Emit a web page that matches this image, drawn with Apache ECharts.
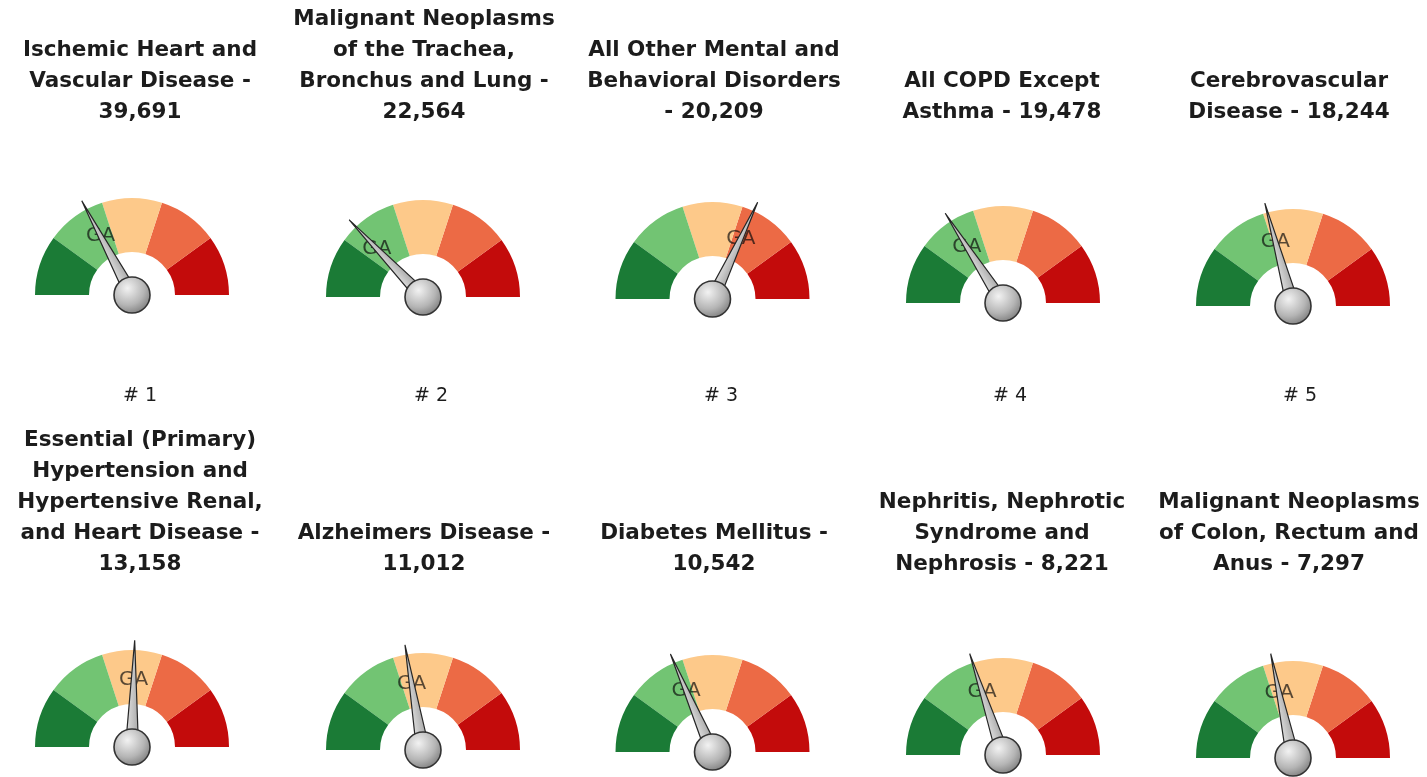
<!DOCTYPE html>
<html>
<head>
<meta charset="utf-8">
<script src="https://cdn.jsdelivr.net/npm/echarts@6/dist/echarts.min.js"></script>
<style>
html,body{margin:0;padding:0;background:#ffffff;}
#chart{width:1427px;height:777px;}
</style>
</head>
<body>
<div id="chart"></div>
<script>
// ---------- data ----------
const causeTitles = [
  ['Ischemic Heart and', 'Vascular Disease -', '39,691'],
  ['Malignant Neoplasms', 'of the Trachea,', 'Bronchus and Lung -', '22,564'],
  ['All Other Mental and', 'Behavioral Disorders', '- 20,209'],
  ['All COPD Except', 'Asthma - 19,478'],
  ['Cerebrovascular', 'Disease - 18,244'],
  ['Essential (Primary)', 'Hypertension and', 'Hypertensive Renal,', 'and Heart Disease -', '13,158'],
  ['Alzheimers Disease -', '11,012'],
  ['Diabetes Mellitus -', '10,542'],
  ['Nephritis, Nephrotic', 'Syndrome and', 'Nephrosis - 8,221'],
  ['Malignant Neoplasms', 'of Colon, Rectum and', 'Anus - 7,297']
];
const gaugeValues = [34.4, 25.7, 63.9, 31.8, 41.5, 50.8, 44.6, 37.1, 39.9, 43.3];
const markerLabel = 'GA';
const rankLabels = ['# 1', '# 2', '# 3', '# 4', '# 5'];
const gaugeMin = 0;
const gaugeMax = 100;
const bandStops = [0.2, 0.4, 0.6, 0.8, 1];
const bandColors = ['#1b7b36', '#72c473', '#fdc98a', '#ec6a45', '#c30b0b'];

// ---------- layout ----------
const H = 777;
const colX = [132, 423, 712.5, 1003, 1293];
const rowCenterY = [[295, 297, 299, 303, 306], [747, 750, 752, 755, 758]];
const titleX = [140, 424, 714, 1002, 1289];
const titleBottomY = [127.5, 580];
const rankX = [140, 431, 721, 1010, 1300];
const rankCenterY = 396;
const R = 97;
const bandWidth = 54;

const titleFont = {fontFamily: 'DejaVu Sans', fontWeight: 'bold', fontSize: 21.5, lineHeight: 31, color: '#1c1c1c'};

const option = {
  backgroundColor: '#ffffff',
  animation: false,
  title: [],
  polar: [],
  angleAxis: [],
  radiusAxis: [],
  series: []
};

const bandColorStops = bandStops.map((s, i) => [s, bandColors[i]]);

gaugeValues.forEach((v, i) => {
  const row = Math.floor(i / 5), col = i % 5;
  const cx = colX[col], cy = rowCenterY[row][col];
  option.title.push({
    text: causeTitles[i].join('\n'),
    left: titleX[col],
    bottom: H - titleBottomY[row],
    textAlign: 'center',
    padding: 0,
    textStyle: titleFont
  });
  // colored bands
  option.series.push({
    type: 'gauge', z: 1,
    center: [cx, cy], radius: R,
    startAngle: 180, endAngle: 0, min: gaugeMin, max: gaugeMax,
    axisLine: {lineStyle: {width: bandWidth, color: bandColorStops}},
    splitLine: {show: false}, axisTick: {show: false}, axisLabel: {show: false},
    pointer: {show: false}, anchor: {show: false},
    title: {show: false}, detail: {show: false},
    data: [{value: v}]
  });
  // marker label following the needle
  option.polar.push({center: [cx, cy], radius: R});
  option.angleAxis.push({polarIndex: i, type: 'value', min: 0, max: gaugeMax * 2, startAngle: 180, clockwise: true, show: false});
  option.radiusAxis.push({polarIndex: i, type: 'value', min: 0, max: 100, show: false});
  option.series.push({
    type: 'scatter', z: 2, coordinateSystem: 'polar', polarIndex: i,
    symbolSize: 1, itemStyle: {color: 'rgba(0,0,0,0)'},
    label: {show: true, position: 'inside', formatter: markerLabel,
      fontFamily: 'DejaVu Sans', fontSize: 20, color: 'rgba(10,10,10,0.85)'},
    data: [[69, v]]
  });
  // needle + hub
  option.series.push({
    type: 'gauge', z: 3,
    center: [cx, cy], radius: R,
    startAngle: 180, endAngle: 0, min: gaugeMin, max: gaugeMax,
    axisLine: {show: false},
    splitLine: {show: false}, axisTick: {show: false}, axisLabel: {show: false},
    pointer: {show: true, width: 6.5, length: '110%',
      itemStyle: {color: {type: 'linear', x: 0, y: 0, x2: 1, y2: 0,
        colorStops: [{offset: 0, color: '#e2e2e2'}, {offset: 1, color: '#a4a4a4'}]},
        borderColor: '#262626', borderWidth: 1.2}},
    anchor: {show: true, showAbove: true, size: 36,
      itemStyle: {color: {type: 'radial', x: 0.38, y: 0.32, r: 0.75,
        colorStops: [{offset: 0, color: '#f2f2f2'}, {offset: 0.6, color: '#b5b5b5'}, {offset: 1, color: '#787878'}]},
        borderColor: '#333333', borderWidth: 1.6}},
    title: {show: false}, detail: {show: false},
    data: [{value: v, name: markerLabel}]
  });
});

rankLabels.forEach((t, col) => {
  option.title.push({
    text: t,
    left: rankX[col],
    top: rankCenterY - 12,
    textAlign: 'center',
    padding: 0,
    textStyle: {fontFamily: 'DejaVu Sans', fontWeight: 'normal', fontSize: 19, lineHeight: 24, color: '#1c1c1c'}
  });
});

const chart = echarts.init(document.getElementById('chart'), null, {renderer: 'canvas'});
chart.setOption(option);
</script>
</body>
</html>
